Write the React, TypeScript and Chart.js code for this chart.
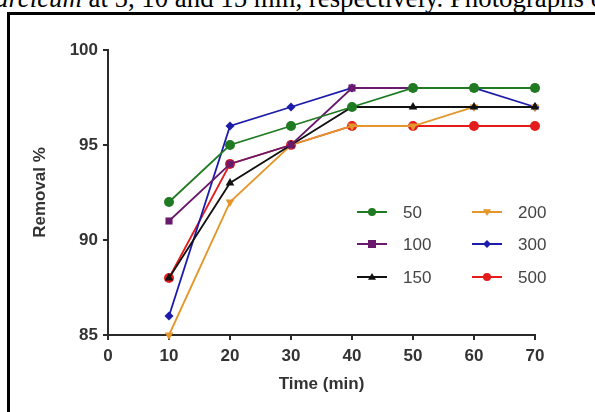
import React, { useEffect, useRef } from "react";
import { Chart, registerables } from "chart.js";

Chart.register(...registerables);

const times = [10, 20, 30, 40, 50, 60, 70];
const seriesLabels = ["50", "100", "150", "200", "300", "500"];
const s50 = [92, 95, 96, 97, 98, 98, 98];
const s100 = [91, 94, 95, 98, 98, 98, 98];
const s150 = [88, 93, 95, 97, 97, 97, 97];
const s200 = [85, 92, 95, 96, 96, 97, 97];
const s300 = [86, 96, 97, 98, 98, 98, 97];
const s500 = [88, 94, 95, 96, 96, 96, 96];
const seriesValues = [s50, s100, s150, s200, s300, s500];
const xTicks = [0, 10, 20, 30, 40, 50, 60, 70];
const yTicks = [85, 90, 95, 100];

const colors = ["#1f7a22", "#6a1a6c", "#111111", "#e5962a", "#1c1caa", "#e41c1c"];
const styles = ["circle", "rect", "triangle", "triangle", "rectRot", "circle"];
const rotations = [0, 0, 0, 180, 0, 0];
const radii = [5, 5, 5, 5, 4.5, 5];

const legendPlugin = {
  id: "customLegend",
  afterDraw(chart: any) {
    const ctx = chart.ctx;
    const colX = [357, 472];
    const rowY = [212, 244, 277];
    const textX = [403, 518];
    chart.data.datasets.forEach((ds: any, i: number) => {
      const col = i < 3 ? 0 : 1;
      const row = i % 3;
      const x0 = colX[col];
      const y = rowY[row];
      ctx.save();
      ctx.strokeStyle = ds.borderColor;
      ctx.lineWidth = 2;
      ctx.beginPath();
      ctx.moveTo(x0, y);
      ctx.lineTo(x0 + 30, y);
      ctx.stroke();
      const cx = x0 + 15;
      ctx.fillStyle = ds.pointBackgroundColor;
      ctx.beginPath();
      const r = 4;
      const st = ds.pointStyle;
      if (st === "circle") {
        ctx.arc(cx, y, r, 0, Math.PI * 2);
      } else if (st === "rect") {
        ctx.rect(cx - r, y - r, 2 * r, 2 * r);
      } else if (st === "rectRot") {
        ctx.moveTo(cx, y - r);
        ctx.lineTo(cx + r, y);
        ctx.lineTo(cx, y + r);
        ctx.lineTo(cx - r, y);
        ctx.closePath();
      } else if (st === "triangle") {
        const dir = ds.pointRotation === 180 ? -1 : 1;
        ctx.moveTo(cx, y - dir * r);
        ctx.lineTo(cx + r, y + dir * r * 0.7);
        ctx.lineTo(cx - r, y + dir * r * 0.7);
        ctx.closePath();
      }
      ctx.fill();
      ctx.fillStyle = "#444";
      ctx.font = "17px 'Liberation Sans', Arial, sans-serif";
      ctx.textAlign = "left";
      ctx.textBaseline = "middle";
      ctx.fillText(ds.label, textX[col], y + 1);
      ctx.restore();
    });
  },
};

export default function App() {
  const ref = useRef<HTMLCanvasElement | null>(null);
  useEffect(() => {
    if (!ref.current) return;
    const tickFont = { family: "'Liberation Sans', Arial, sans-serif", size: 17, weight: "bold" as const };
    const chart = new Chart(ref.current, {
      type: "line",
      data: {
        datasets: seriesLabels.map((label, i) => ({
          label,
          data: times.map((t, j) => ({ x: t, y: seriesValues[i][j] })),
          borderColor: colors[i],
          backgroundColor: colors[i],
          pointBackgroundColor: colors[i],
          pointBorderColor: colors[i],
          pointBorderWidth: 0,
          pointStyle: styles[i] as any,
          pointRotation: rotations[i],
          pointRadius: radii[i],
          borderWidth: 1.8,
          tension: 0,
          clip: false as any,
        })),
      },
      options: {
        animation: false,
        responsive: false,
        events: [],
        layout: { padding: { left: 0, right: 60, top: 50, bottom: 0 } },
        plugins: { legend: { display: false }, tooltip: { enabled: false } },
        scales: {
          x: {
            type: "linear",
            min: 0,
            max: 70,
            afterFit(scale: any) {
              scale.height = 77;
            },
            afterBuildTicks(scale: any) {
              scale.ticks = xTicks.map((v) => ({ value: v }));
            },
            border: { display: true, color: "#2a2a2a", width: 2 },
            grid: { drawOnChartArea: false, drawTicks: true, tickLength: 5, color: "#2a2a2a", lineWidth: 2 },
            ticks: { font: tickFont, color: "#333", padding: 6, maxRotation: 0 },
            title: {
              display: true,
              text: "Time (min)",
              font: tickFont,
              color: "#333",
              padding: { top: 0, bottom: 17 },
            },
          },
          y: {
            type: "linear",
            min: 85,
            max: 100,
            afterFit(scale: any) {
              scale.width = 108;
            },
            afterBuildTicks(scale: any) {
              scale.ticks = yTicks.map((v) => ({ value: v }));
            },
            border: { display: true, color: "#2a2a2a", width: 2 },
            grid: { drawOnChartArea: false, drawTicks: true, tickLength: 5, color: "#2a2a2a", lineWidth: 2 },
            ticks: { font: tickFont, color: "#333", padding: 5 },
            title: {
              display: true,
              text: "Removal %",
              font: tickFont,
              color: "#333",
              padding: { top: 30, bottom: 0 },
            },
          },
        },
      },
      plugins: [legendPlugin],
    });
    return () => chart.destroy();
  }, []);

  return (
    <div
      style={{
        position: "absolute",
        left: 0,
        top: 0,
        width: 595,
        height: 412,
        overflow: "hidden",
        background: "#fff",
      }}
    >
      <div
        style={{
          position: "absolute",
          left: -5,
          top: -17,
          whiteSpace: "nowrap",
          fontFamily: "'Liberation Serif', 'Times New Roman', serif",
          fontSize: 26.8,
          lineHeight: "normal",
          color: "#000",
        }}
      >
        <i>arcicum</i> at 5, 10 and 15 min, respectively. Photographs of
      </div>
      <div
        style={{
          position: "absolute",
          left: 7,
          top: 12,
          width: 640,
          height: 460,
          borderTop: "3px solid #000",
          borderLeft: "3px solid #000",
        }}
      />
      <canvas ref={ref} width={595} height={412} style={{ position: "absolute", left: 0, top: 0 }} />
    </div>
  );
}
